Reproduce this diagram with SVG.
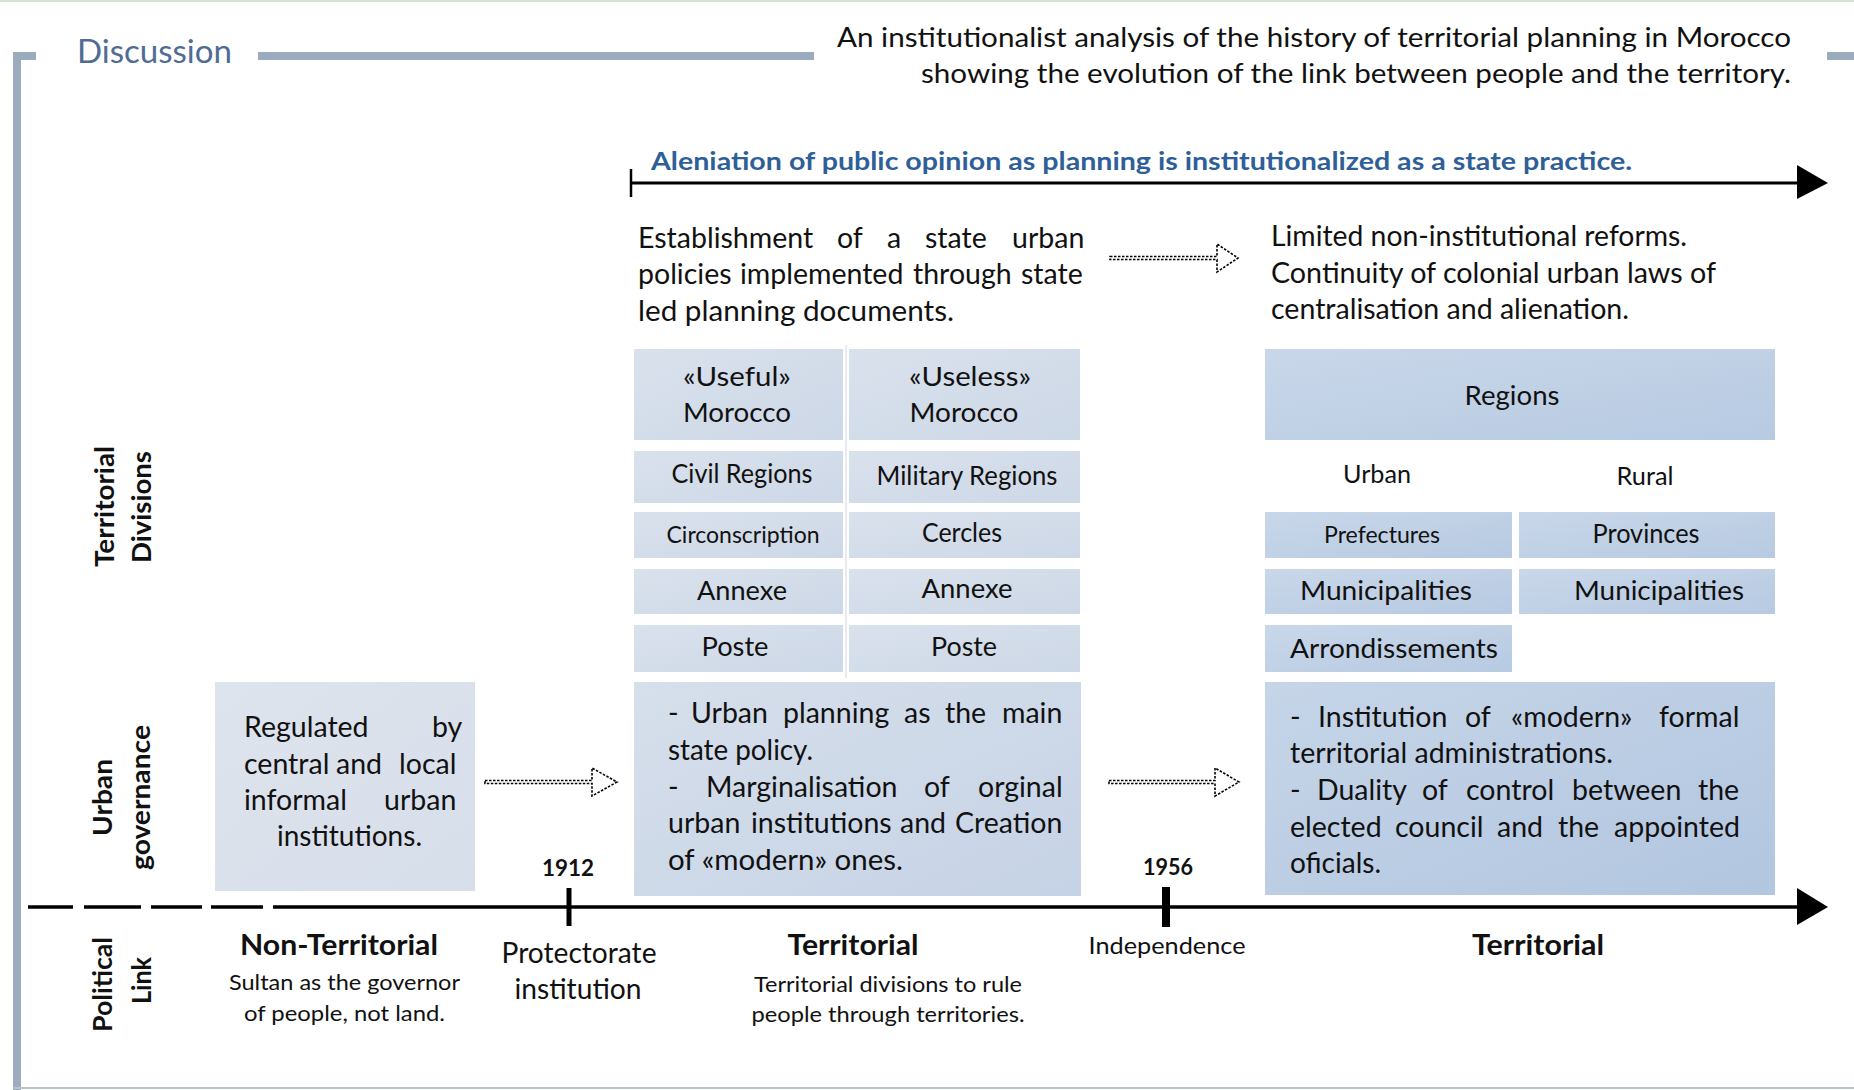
<svg xmlns="http://www.w3.org/2000/svg" width="1854" height="1090" viewBox="0 0 1854 1090">
<style>
text{font-family:Lato,"Open Sans","Liberation Sans",sans-serif;fill:#111;}
.b{font-weight:bold;}
.c{text-anchor:middle;}
.body{font-size:28.5px;}
.small{font-size:22px;}
.cell{font-size:27.5px;}
.cellS{font-size:23px;}
.ax{font-size:27px;font-weight:bold;text-anchor:middle;}
.frame{fill:#9CACBF;}
.cp{fill:url(#gP);}
.cq{fill:url(#gQ);}
.dot{fill:#fff;stroke:#000;stroke-width:1.6;stroke-dasharray:2.5 1.5;}
.axis{stroke:#000;stroke-width:3.5;fill:none;}
</style>
<defs>
<linearGradient id="gP" x1="0" y1="0" x2="1" y2="1"><stop offset="0" stop-color="#D9E1EC"/><stop offset="1" stop-color="#CDD8E7"/></linearGradient>
<linearGradient id="gQ" x1="0" y1="0" x2="1" y2="1"><stop offset="0" stop-color="#C9D7E9"/><stop offset="1" stop-color="#B7CAE2"/></linearGradient>
<linearGradient id="g1" x1="0" y1="0" x2="1" y2="1"><stop offset="0" stop-color="#DEE4ED"/><stop offset="1" stop-color="#D6DEEA"/></linearGradient>
<linearGradient id="g2" x1="0" y1="0" x2="1" y2="1"><stop offset="0" stop-color="#D6DFEB"/><stop offset="1" stop-color="#C6D3E6"/></linearGradient>
<linearGradient id="g3" x1="0" y1="0" x2="1" y2="1"><stop offset="0" stop-color="#C6D5E8"/><stop offset="1" stop-color="#B2C6E0"/></linearGradient>
</defs>

<rect x="0" y="0" width="1854" height="1090" fill="#fff"/>
<rect x="0" y="0" width="1854" height="2" fill="#D6E2D2"/>

<g id="frame">
<rect class="frame" x="13" y="52" width="8" height="1038"/>
<rect class="frame" x="13" y="52" width="23" height="8"/>
<rect class="frame" x="258" y="52" width="556" height="8"/>
<rect class="frame" x="1827" y="52" width="27" height="8"/>
<rect x="13" y="1087" width="1841" height="2" fill="#B9C3CF"/>
<text x="77" y="63" font-size="33" style="fill:#4E6C94" textLength="155" lengthAdjust="spacingAndGlyphs">Discussion</text>
</g>

<g id="title">
<text x="1791" y="47" font-size="27" text-anchor="end" textLength="954" lengthAdjust="spacingAndGlyphs">An institutionalist analysis of the history of territorial planning in Morocco</text>
<text x="1791" y="83" font-size="27" text-anchor="end" textLength="870" lengthAdjust="spacingAndGlyphs">showing the evolution of the link between people and the territory.</text>
</g>

<g id="axis-labels">
<text class="ax" transform="translate(114,506.5) rotate(-90)" textLength="121" lengthAdjust="spacingAndGlyphs">Territorial</text>
<text class="ax" transform="translate(151,507) rotate(-90)" textLength="112" lengthAdjust="spacingAndGlyphs">Divisions</text>
<text class="ax" transform="translate(112,797.5) rotate(-90)" textLength="77" lengthAdjust="spacingAndGlyphs">Urban</text>
<text class="ax" transform="translate(150,797.5) rotate(-90)" textLength="145" lengthAdjust="spacingAndGlyphs">governance</text>
<text class="ax" transform="translate(112,984.5) rotate(-90)" textLength="95" lengthAdjust="spacingAndGlyphs">Political</text>
<text class="ax" transform="translate(151,980.5) rotate(-90)" textLength="47" lengthAdjust="spacingAndGlyphs">Link</text>
</g>

<g id="alienation-label">
<text class="b" x="651" y="170" font-size="25" style="fill:#2F5F98" textLength="981" lengthAdjust="spacingAndGlyphs">Aleniation of public opinion as planning is institutionalized as a state practice.</text>
</g>

<g id="protectorate-text">
<text class="body" y="248"><tspan x="638">Establishment</tspan><tspan x="837">of</tspan><tspan x="887">a</tspan><tspan x="925">state</tspan><tspan x="1012">urban</tspan></text>
<text class="body" y="284"><tspan x="638">policies</tspan><tspan x="740">implemented</tspan><tspan x="913">through</tspan><tspan x="1021">state</tspan></text>
<text class="body" x="638" y="321" textLength="316" lengthAdjust="spacingAndGlyphs">led planning documents.</text>
</g>

<g id="independence-text">
<text class="body" x="1271" y="246" textLength="416" lengthAdjust="spacingAndGlyphs">Limited non-institutional reforms.</text>
<text class="body" x="1271" y="283" textLength="445" lengthAdjust="spacingAndGlyphs">Continuity of colonial urban laws of</text>
<text class="body" x="1271" y="319" textLength="358" lengthAdjust="spacingAndGlyphs">centralisation and alienation.</text>
</g>

<line x1="846" y1="345" x2="846" y2="678" stroke="#E1E5EB" stroke-width="1.5"/>

<g id="useful-morocco"><rect class="cp" x="634" y="349" width="209" height="91"/>
<text class="cell c" x="737" y="386" textLength="108" lengthAdjust="spacingAndGlyphs">«Useful»</text>
<text class="cell c" x="737" y="422" textLength="108" lengthAdjust="spacingAndGlyphs">Morocco</text></g>
<g id="useless-morocco"><rect class="cp" x="849" y="349" width="231" height="91"/>
<text class="cell c" x="970" y="386" textLength="122" lengthAdjust="spacingAndGlyphs">«Useless»</text>
<text class="cell c" x="964" y="422" textLength="109" lengthAdjust="spacingAndGlyphs">Morocco</text></g>
<g id="civil-regions"><rect class="cp" x="634" y="451" width="209" height="52"/>
<text class="cell c" x="742" y="483" textLength="141" lengthAdjust="spacingAndGlyphs">Civil Regions</text></g>
<g id="military-regions"><rect class="cp" x="849" y="451" width="231" height="52"/>
<text class="cell c" x="967" y="485" textLength="181" lengthAdjust="spacingAndGlyphs">Military Regions</text></g>
<g id="circonscription"><rect class="cp" x="634" y="512" width="209" height="46"/>
<text class="cellS c" x="743" y="543" textLength="153" lengthAdjust="spacingAndGlyphs">Circonscription</text></g>
<g id="cercles"><rect class="cp" x="849" y="512" width="231" height="46"/>
<text class="cell c" x="962" y="542" textLength="80" lengthAdjust="spacingAndGlyphs">Cercles</text></g>
<g id="annexe-civil"><rect class="cp" x="634" y="569" width="209" height="45"/>
<text class="cell c" x="742" y="600" textLength="90" lengthAdjust="spacingAndGlyphs">Annexe</text></g>
<g id="annexe-military"><rect class="cp" x="849" y="569" width="231" height="45"/>
<text class="cell c" x="967" y="598" textLength="91" lengthAdjust="spacingAndGlyphs">Annexe</text></g>
<g id="poste-civil"><rect class="cp" x="634" y="625" width="209" height="47"/>
<text class="cell c" x="735" y="656" textLength="67" lengthAdjust="spacingAndGlyphs">Poste</text></g>
<g id="poste-military"><rect class="cp" x="849" y="625" width="231" height="47"/>
<text class="cell c" x="964" y="656" textLength="66" lengthAdjust="spacingAndGlyphs">Poste</text></g>

<g id="regions"><rect class="cq" x="1265" y="349" width="510" height="91"/>
<text class="cell c" x="1512" y="405" textLength="95" lengthAdjust="spacingAndGlyphs">Regions</text></g>
<g id="urban-label"><text class="c" x="1377" y="483" font-size="25" textLength="68" lengthAdjust="spacingAndGlyphs">Urban</text></g>
<g id="rural-label"><text class="c" x="1645" y="485" font-size="25" textLength="57" lengthAdjust="spacingAndGlyphs">Rural</text></g>
<g id="prefectures"><rect class="cq" x="1265" y="512" width="247" height="46"/>
<text class="cellS c" x="1382" y="543" textLength="116" lengthAdjust="spacingAndGlyphs">Prefectures</text></g>
<g id="provinces"><rect class="cq" x="1519" y="512" width="256" height="46"/>
<text class="cell c" x="1646" y="543" textLength="107" lengthAdjust="spacingAndGlyphs">Provinces</text></g>
<g id="municipalities-urban"><rect class="cq" x="1265" y="569" width="247" height="45"/>
<text class="cell c" x="1386" y="600" textLength="172" lengthAdjust="spacingAndGlyphs">Municipalities</text></g>
<g id="municipalities-rural"><rect class="cq" x="1519" y="569" width="256" height="45"/>
<text class="cell c" x="1659" y="600" textLength="170" lengthAdjust="spacingAndGlyphs">Municipalities</text></g>
<g id="arrondissements"><rect class="cq" x="1265" y="625" width="247" height="47"/>
<text class="cell c" x="1394" y="658" textLength="208" lengthAdjust="spacingAndGlyphs">Arrondissements</text></g>

<g id="governance-precolonial"><rect x="215" y="682" width="260" height="209" fill="url(#g1)"/>
<text class="body" y="737"><tspan x="244">Regulated</tspan><tspan x="432">by</tspan></text>
<text class="body" y="774"><tspan x="244">central</tspan><tspan x="336">and</tspan><tspan x="399">local</tspan></text>
<text class="body" y="810"><tspan x="244">informal</tspan><tspan x="384">urban</tspan></text>
<text class="body c" x="349.5" y="846" textLength="145" lengthAdjust="spacingAndGlyphs">institutions.</text>
</g>

<g id="governance-protectorate"><rect x="634" y="682" width="447" height="214" fill="url(#g2)"/>
<text class="body" y="723"><tspan x="668">-</tspan><tspan x="691">Urban</tspan><tspan x="783">planning</tspan><tspan x="904">as</tspan><tspan x="945">the</tspan><tspan x="1002">main</tspan></text>
<text class="body" x="668" y="760" textLength="145" lengthAdjust="spacingAndGlyphs">state policy.</text>
<text class="body" y="797"><tspan x="668">-</tspan><tspan x="706">Marginalisation</tspan><tspan x="924">of</tspan><tspan x="978">orginal</tspan></text>
<text class="body" y="833"><tspan x="668">urban</tspan><tspan x="751">institutions</tspan><tspan x="900">and</tspan><tspan x="955">Creation</tspan></text>
<text class="body" x="668" y="870" textLength="235" lengthAdjust="spacingAndGlyphs">of «modern» ones.</text>
</g>

<g id="governance-independence"><rect x="1265" y="682" width="510" height="213" fill="url(#g3)"/>
<text class="body" y="727"><tspan x="1290">-</tspan><tspan x="1318">Institution</tspan><tspan x="1465">of</tspan><tspan x="1511">«modern»</tspan><tspan x="1659">formal</tspan></text>
<text class="body" x="1290" y="763" textLength="323" lengthAdjust="spacingAndGlyphs">territorial administrations.</text>
<text class="body" y="800"><tspan x="1290">-</tspan><tspan x="1317">Duality</tspan><tspan x="1422">of</tspan><tspan x="1466">control</tspan><tspan x="1572">between</tspan><tspan x="1698">the</tspan></text>
<text class="body" y="837"><tspan x="1290">elected</tspan><tspan x="1395">council</tspan><tspan x="1497">and</tspan><tspan x="1558">the</tspan><tspan x="1614">appointed</tspan></text>
<text class="body" x="1290" y="873" textLength="91" lengthAdjust="spacingAndGlyphs">oficials.</text>
</g>

<g id="political-link-labels">
<text class="b c" x="339" y="955" font-size="28" textLength="198" lengthAdjust="spacingAndGlyphs">Non-Territorial</text>
<text class="small c" x="344.5" y="990" textLength="231" lengthAdjust="spacingAndGlyphs">Sultan as the governor</text>
<text class="small c" x="344.5" y="1021" textLength="201" lengthAdjust="spacingAndGlyphs">of people, not land.</text>
<text class="body c" x="579" y="963" textLength="155" lengthAdjust="spacingAndGlyphs">Protectorate</text>
<text class="body c" x="578" y="999" textLength="127" lengthAdjust="spacingAndGlyphs">institution</text>
<text class="b c" x="853" y="955" font-size="28" textLength="131" lengthAdjust="spacingAndGlyphs">Territorial</text>
<text class="small c" x="888" y="992" textLength="268" lengthAdjust="spacingAndGlyphs">Territorial divisions to rule</text>
<text class="small c" x="888" y="1022" textLength="273" lengthAdjust="spacingAndGlyphs">people through territories.</text>
<text class="c" x="1167" y="954" font-size="24" textLength="157" lengthAdjust="spacingAndGlyphs">Independence</text>
<text class="b c" x="1538" y="955" font-size="28" textLength="132" lengthAdjust="spacingAndGlyphs">Territorial</text>
<text class="b c" x="568" y="876" font-size="22" textLength="52" lengthAdjust="spacingAndGlyphs">1912</text>
<text class="b c" x="1168" y="875" font-size="22" textLength="50" lengthAdjust="spacingAndGlyphs">1956</text>
</g>

<g id="connectors">
<line class="axis" x1="631" y1="183" x2="1800" y2="183" style="stroke-width:3"/>
<line x1="631" y1="169" x2="631" y2="197" stroke="#000" stroke-width="2.5"/>
<polygon points="1797,165 1828,183 1797,199" fill="#000"/>
<path class="axis" d="M28 907H73M84 907H141M151 907H202M211 907H263M273 907H1800"/>
<polygon points="1797,888 1828,907 1797,925" fill="#000"/>
<rect x="566.5" y="888" width="5" height="38" fill="#000"/>
<rect x="1162" y="887" width="8" height="40" fill="#000"/>
<path class="dot" d="M485 780.5H592V768L617 782L592 796V783.5H485Z"/>
<path class="dot" d="M1109 780.5H1215V768L1239 782L1215 796V783.5H1109Z"/>
<path class="dot" d="M1110 256.5H1217V244L1238 258L1217 272V259.5H1110Z"/>
</g>
</svg>
